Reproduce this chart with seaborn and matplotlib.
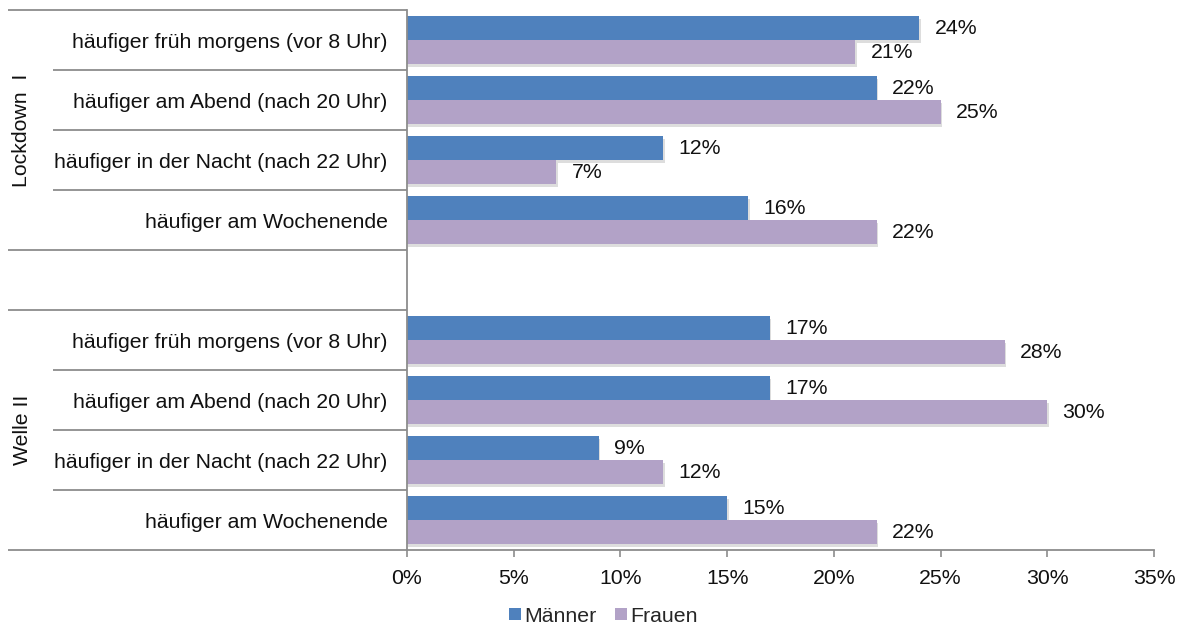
import matplotlib
matplotlib.use("Agg")
import matplotlib.pyplot as plt
import matplotlib.patheffects as pe
from matplotlib.patches import Patch
from matplotlib.transforms import blended_transform_factory
from matplotlib.ticker import FuncFormatter
import seaborn as sns
import pandas as pd

# Categories and values (share in %)
groups = ["Lockdown  I", "Welle II"]
activities = [
    "häufiger früh morgens (vor 8 Uhr)",
    "häufiger am Abend (nach 20 Uhr)",
    "häufiger in der Nacht (nach 22 Uhr)",
    "häufiger am Wochenende",
]
series = ["Männer", "Frauen"]
maenner_lockdown = [24, 22, 12, 16]
frauen_lockdown = [21, 25, 7, 22]
maenner_welle = [17, 17, 9, 15]
frauen_welle = [28, 30, 12, 22]
x_ticks = [0, 5, 10, 15, 20, 25, 30, 35]

colors = {"Männer": "#4F81BD", "Frauen": "#B2A2C7"}
grid_grey = "#8C8C8C"
fs = 15.3

# Long-form table: one row per bar; slot keys keep rows unique per group
rows = []
for g, (m_vals, f_vals) in zip(groups, [(maenner_lockdown, frauen_lockdown),
                                         (maenner_welle, frauen_welle)]):
    for i, act in enumerate(activities):
        key = f"{g}|{act}"
        rows.append({"slot": key, "Geschlecht": "Männer", "Anteil": m_vals[i]})
        rows.append({"slot": key, "Geschlecht": "Frauen", "Anteil": f_vals[i]})
df = pd.DataFrame(rows)

order = [f"{groups[0]}|{a}" for a in activities] + ["__gap__"] + \
        [f"{groups[1]}|{a}" for a in activities]

sns.set_theme(style="white")
plt.rcParams["font.family"] = ["Liberation Sans", "DejaVu Sans"]

W, H = 1183, 632
fig = plt.figure(figsize=(W / 100, H / 100), dpi=100)
ax = fig.add_axes([407 / W, (H - 550) / H, (1154 - 407) / W, (550 - 10) / H])

sns.barplot(data=df, y="slot", x="Anteil", hue="Geschlecht", order=order,
            hue_order=series, palette=colors, orient="h", width=0.8,
            saturation=1, ax=ax, legend=False)

# soft drop shadow on bars
for p in ax.patches:
    p.set_edgecolor("none")
    p.set_path_effects([pe.SimplePatchShadow(offset=(1, -2), alpha=0.18,
                                             shadow_rgbFace="#444444"),
                        pe.Normal()])

# value labels
for cont in ax.containers:
    ax.bar_label(cont, labels=[f"{v:.0f}%" for v in cont.datavalues],
                 padding=11, fontsize=fs, color="#111111")
    for t in ax.texts[-len(cont.datavalues):]:
        t.set_va("center")

ax.set_xlim(0, 35)
ax.set_ylim(len(order) - 0.5, -0.5)
ax.set_xticks(x_ticks)
ax.xaxis.set_major_formatter(FuncFormatter(lambda v, _: f"{v:.0f}%"))
ax.set_xlabel("")
ax.set_ylabel("")

ylabels = [s.split("|")[1] if "|" in s else "" for s in order]
ax.set_yticks(range(len(order)))
ax.set_yticklabels(ylabels)
ax.tick_params(axis="y", length=0, pad=14, labelsize=fs, labelcolor="#111111")
ax.tick_params(axis="x", length=5, width=1.2, color=grid_grey, direction="out",
               labelsize=fs, labelcolor="#111111", pad=9, bottom=True)

for side in ["top", "right"]:
    ax.spines[side].set_visible(False)
for side in ["left", "bottom"]:
    ax.spines[side].set_color(grid_grey)
    ax.spines[side].set_linewidth(1.3)

# separator lines in the label area
btrans = blended_transform_factory(fig.transFigure, ax.transData)
x_axis = 407 / W
for b in [-0.5, 3.5, 4.5, 8.5]:
    ax.plot([8 / W, x_axis], [b, b], color=grid_grey, lw=1.3,
            transform=btrans, clip_on=False, solid_capstyle="butt")
for b in [0.5, 1.5, 2.5, 5.5, 6.5, 7.5]:
    ax.plot([53 / W, x_axis], [b, b], color=grid_grey, lw=1.3,
            transform=btrans, clip_on=False, solid_capstyle="butt")

# group labels
for g, center in zip(groups, [1.5, 6.5]):
    ax.text(22 / W, center, g, rotation=90, ha="center", va="center",
            fontsize=fs, color="#111111", transform=btrans)

# legend below the axis (plain squares, no shadow)
handles = [Patch(facecolor=colors[s], edgecolor="none") for s in series]
fig.legend(handles, series, loc="lower center", bbox_to_anchor=(0.51, -0.02),
           ncol=2, frameon=False, fontsize=fs, handlelength=0.55,
           handleheight=0.55, handletextpad=0.15, columnspacing=0.9)

fig.savefig("out.png", dpi=100)
